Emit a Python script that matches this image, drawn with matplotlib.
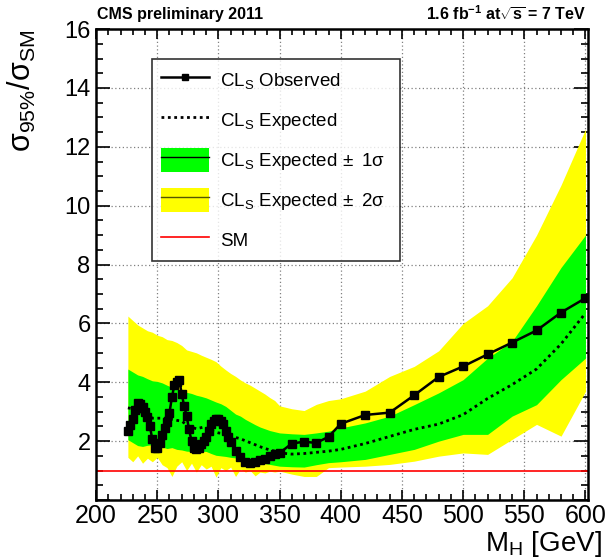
import numpy as np
import matplotlib.pyplot as plt
from matplotlib.patches import Patch
from matplotlib.lines import Line2D
from matplotlib.ticker import MultipleLocator, FuncFormatter

plt.rcParams['font.family'] = ['Liberation Sans', 'DejaVu Sans']
plt.rcParams['mathtext.fontset'] = 'custom'
plt.rcParams['mathtext.rm'] = 'Liberation Sans'
plt.rcParams['mathtext.it'] = 'Liberation Sans:italic'
plt.rcParams['mathtext.bf'] = 'Liberation Sans:bold'

# observed CLs limit
obs_mass = [226, 228, 230, 232, 234, 236, 238, 240, 242, 244, 246, 248, 250,
            252, 254, 256, 258, 260, 262, 264, 266, 268, 270, 272, 274, 276,
            278, 280, 282, 284, 286, 288, 290, 292, 294, 296, 298, 300, 302,
            304, 306, 308, 310, 314, 318, 322, 326, 330, 334, 338, 342, 346,
            350, 360, 370, 380, 390, 400, 420, 440, 460, 480, 500, 520, 540,
            560, 580, 600]
obs_limit = [2.35, 2.55, 2.75, 3.05, 3.28, 3.25, 3.15, 3.0, 2.82, 2.5, 2.06,
             1.78, 1.77, 1.95, 2.2, 2.45, 2.65, 2.96, 3.5, 3.9, 4.02, 4.09,
             3.6, 3.2, 2.85, 2.4, 2.0, 1.78, 1.72, 1.76, 1.89, 2.0, 2.15, 2.35,
             2.58, 2.68, 2.74, 2.74, 2.68, 2.58, 2.34, 2.15, 1.98, 1.66, 1.46,
             1.3, 1.27, 1.3, 1.35, 1.41, 1.5, 1.56, 1.6, 1.92, 1.98, 1.94,
             2.15, 2.59, 2.89, 2.97, 3.56, 4.18, 4.54, 4.95, 5.35, 5.76, 6.37,
             6.86]

# expected median
exp_mass = [226, 230, 236, 240, 246, 252, 258, 264, 270, 276, 282, 288, 294,
            300, 306, 312, 318, 324, 330, 336, 342, 346, 350, 360, 370, 380,
            390, 400, 420, 440, 460, 480, 500, 520, 540, 560, 580, 600]
exp_limit = [3.13, 3.1, 3.0, 2.95, 2.78, 2.78, 2.78, 2.72, 2.68, 2.5, 2.42,
             2.48, 2.35, 2.28, 2.25, 2.15, 2.08, 1.98, 1.88, 1.78, 1.7, 1.66,
             1.6, 1.56, 1.58, 1.62, 1.66, 1.72, 1.92, 2.16, 2.4, 2.58, 2.9,
             3.45, 3.92, 4.45, 5.3, 6.35]

# expected bands
band_mass = [226, 230, 234, 238, 242, 246, 250, 254, 258, 262, 266, 270, 274,
             278, 282, 286, 290, 294, 298, 302, 306, 310, 314, 318, 322, 326,
             330, 334, 338, 342, 346, 350, 360, 370, 380, 390, 400, 420, 440,
             460, 480, 500, 520, 540, 560, 580, 600]
plus2 = [6.25, 6.1, 5.95, 5.85, 5.75, 5.7, 5.6, 5.55, 5.45, 5.42, 5.35, 5.25,
         5.1, 5.05, 5.0, 4.92, 4.85, 4.78, 4.7, 4.55, 4.42, 4.3, 4.2, 4.08,
         3.98, 3.9, 3.8, 3.7, 3.6, 3.48, 3.38, 3.2, 3.1, 3.04, 3.25, 3.38,
         3.44, 3.7, 4.2, 4.54, 5.07, 6.0, 6.6, 7.55, 9.0, 10.7, 12.6]
plus1 = [4.45, 4.35, 4.25, 4.2, 4.12, 4.05, 4.03, 3.98, 3.9, 3.83, 3.78, 3.72,
         3.66, 3.62, 3.56, 3.52, 3.47, 3.4, 3.33, 3.27, 3.18, 3.05, 2.92, 2.85,
         2.74, 2.65, 2.56, 2.48, 2.42, 2.36, 2.32, 2.28, 2.25, 2.23, 2.28,
         2.34, 2.45, 2.62, 2.85, 3.24, 3.64, 4.09, 4.82, 5.39, 6.6, 7.9, 9.0]
minus1 = [2.05, 1.95, 1.85, 1.82, 1.86, 1.88, 1.9, 1.8, 1.75, 1.78, 1.72, 1.7,
          1.66, 1.65, 1.63, 1.66, 1.65, 1.58, 1.52, 1.5, 1.48, 1.45, 1.43,
          1.42, 1.38, 1.33, 1.3, 1.27, 1.24, 1.21, 1.18, 1.15, 1.13, 1.12, 1.2,
          1.27, 1.3, 1.38, 1.55, 1.72, 2.0, 2.23, 2.23, 2.85, 3.24, 4.09, 4.82]
minus2 = [1.45, 1.3, 1.5, 1.25, 1.42, 1.3, 1.45, 1.2, 1.1, 0.8, 1.15, 1.3, 1.0,
          1.25, 0.95, 1.2, 1.05, 1.15, 0.78, 1.1, 1.0, 1.12, 0.8, 1.05, 0.95,
          1.0, 0.82, 0.95, 0.92, 0.98, 0.95, 0.98, 0.88, 0.8, 0.8, 1.1, 1.12,
          1.15, 1.21, 1.32, 1.49, 1.6, 1.55, 2.06, 2.57, 2.17, 3.69]

sm_value = 1.0

fig = plt.figure(figsize=(6.08, 5.59), dpi=100)
ax = fig.add_axes([0.158, 0.1055, 0.809, 0.8425])

ax.fill_between(band_mass, minus2, plus2, color='#ffff00', lw=0, zorder=2)
ax.fill_between(band_mass, minus1, plus1, color='#00ff00', lw=0, zorder=3)
ax.plot(exp_mass, exp_limit, color='k', lw=2.0, ls=(0, (1.0, 1.3)), zorder=4)
ax.axhline(sm_value, color='red', lw=1.2, zorder=5)
ax.plot(obs_mass, obs_limit, color='k', lw=1.8, marker='s', ms=5.5, zorder=6)

ax.set_xlim(200, 602)
ax.set_ylim(0, 16)
ax.xaxis.set_major_locator(MultipleLocator(50))
ax.xaxis.set_minor_locator(MultipleLocator(10))
ax.yaxis.set_major_locator(MultipleLocator(2))
ax.yaxis.set_minor_locator(MultipleLocator(0.5))
ax.yaxis.set_major_formatter(FuncFormatter(lambda v, p: '' if v == 0 else '%d' % v))
ax.tick_params(which='both', direction='in', top=True, right=True, width=1.2)
ax.tick_params(axis='x', which='major', length=7, pad=3, labelsize=18)
ax.tick_params(axis='x', which='minor', length=4)
ax.tick_params(axis='y', which='major', length=10, pad=4, labelsize=17)
ax.tick_params(axis='y', which='minor', length=5)
for s in ax.spines.values():
    s.set_linewidth(1.8)
    s.set_zorder(10)

ax.set_axisbelow(True)
ax.grid(True, which='major', color='#808080', ls=(0, (1, 2)), lw=0.9)

# axis titles in the ROOT style: x title flush right under the axis, y title at the top
fig.text(602 / 608, 0, r'M$_{\rm H}$ [GeV]', fontsize=20,
         ha='right', va='bottom')
ax.set_ylabel(r'$\mathrm{σ_{95\%}/σ_{SM}}$', fontsize=22, loc='top', labelpad=19)

fig.text(97 / 608, 1 - 14 / 559, 'CMS preliminary 2011', fontsize=11.5,
         fontweight='bold', va='center', ha='left')
fig.text(586 / 608, 1 - 14 / 559, r'1.6 fb$^{\mathbf{-1}}$ at$\mathbf{\sqrt{s}}$ = 7 TeV',
         fontsize=11.5, fontweight='bold', va='center', ha='right')

handles = [
    Line2D([], [], color='k', lw=1.8, marker='s', ms=4),
    Line2D([], [], color='k', lw=2.0, ls=(0, (1.0, 1.3))),
    (Patch(facecolor='#00ff00', lw=0), Line2D([], [], color='k', lw=1)),
    (Patch(facecolor='#ffff00', lw=0), Line2D([], [], color='#555500', lw=1)),
    Line2D([], [], color='red', lw=1.2),
]
labels = [r'CL$_{\rm S}$ Observed', r'CL$_{\rm S}$ Expected',
          r'CL$_{\rm S}$ Expected$\,\pm$ 1$\mathrm{σ}$',
          r'CL$_{\rm S}$ Expected$\,\pm$ 2$\mathrm{σ}$', 'SM']
leg = ax.legend(handles, labels, loc='upper left',
                bbox_to_anchor=(0.114, 0.516, 0.504, 0.42), mode='expand',
                fontsize=13.5, frameon=True, fancybox=False, edgecolor='k',
                handlelength=2.6, handleheight=1.6, labelspacing=0.85,
                borderpad=0.45, handletextpad=0.55, borderaxespad=0)
leg.get_frame().set_linewidth(1.2)
leg.set_zorder(20)

fig.savefig('out.png', dpi=100)
